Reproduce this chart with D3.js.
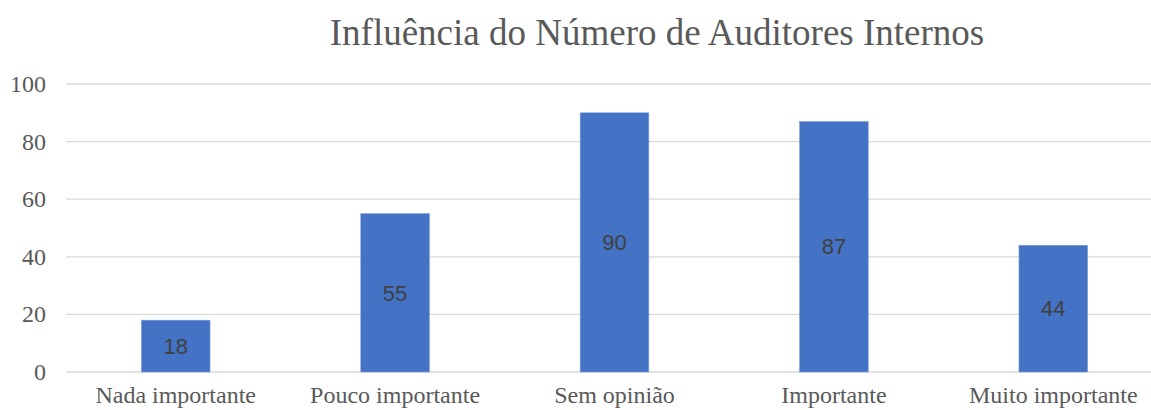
<!DOCTYPE html>
<html>
<head>
<meta charset="utf-8">
<script src="https://cdn.jsdelivr.net/npm/d3@7"></script>
<style>
  body { margin: 0; background: #fff; }
  svg { display: block; }
</style>
</head>
<body>
<div id="chart"></div>
<script>
  var categories = ['Nada importante', 'Pouco importante', 'Sem opinião', 'Importante', 'Muito importante'];
  var values = [18, 55, 90, 87, 44];
  var yTicks = [0, 20, 40, 60, 80, 100];
  var title = 'Influência do Número de Auditores Internos';

  var width = 1151;
  var height = 410;
  var plotLeft = 66;
  var plotRight = 1163;
  var plotTop = 84;
  var plotBottom = 372;

  var svg = d3.select('#chart')
    .append('svg')
    .attr('width', width)
    .attr('height', height);

  var x = d3.scaleBand()
    .domain(categories)
    .range([plotLeft, plotRight])
    .paddingInner(0.687)
    .paddingOuter(0.3435);

  var y = d3.scaleLinear()
    .domain([0, 100])
    .range([plotBottom, plotTop]);

  // gridlines
  svg.append('g')
    .selectAll('line')
    .data(yTicks)
    .enter()
    .append('line')
    .attr('x1', plotLeft)
    .attr('x2', width)
    .attr('y1', function(d) { return y(d); })
    .attr('y2', function(d) { return y(d); })
    .attr('stroke', '#d9d9d9')
    .attr('stroke-width', 1.3);

  // y tick labels
  svg.append('g')
    .selectAll('text')
    .data(yTicks)
    .enter()
    .append('text')
    .attr('x', 46)
    .attr('y', function(d) { return y(d); })
    .attr('dy', '0.33em')
    .attr('text-anchor', 'end')
    .style('font-family', '"Liberation Serif", serif')
    .style('font-size', '24px')
    .style('fill', '#595959')
    .text(function(d) { return d; });

  // bars
  svg.append('g')
    .selectAll('rect')
    .data(values)
    .enter()
    .append('rect')
    .attr('x', function(d, i) { return x(categories[i]); })
    .attr('y', function(d) { return y(d); })
    .attr('width', x.bandwidth())
    .attr('height', function(d) { return y(0) - y(d); })
    .attr('fill', '#4472c4')
    .attr('stroke', '#7f9fd9')
    .attr('stroke-width', 0.6);

  // value labels
  svg.append('g')
    .selectAll('text')
    .data(values)
    .enter()
    .append('text')
    .attr('x', function(d, i) { return x(categories[i]) + x.bandwidth() / 2; })
    .attr('y', function(d) { return (y(d) + y(0)) / 2; })
    .attr('dy', '0.35em')
    .attr('text-anchor', 'middle')
    .style('font-family', '"Liberation Sans", "DejaVu Sans", sans-serif')
    .style('font-size', '22px')
    .style('fill', '#404040')
    .text(function(d) { return d; });

  // x labels
  svg.append('g')
    .selectAll('text')
    .data(categories)
    .enter()
    .append('text')
    .attr('x', function(d) { return x(d) + x.bandwidth() / 2; })
    .attr('y', 403)
    .attr('text-anchor', 'middle')
    .style('font-family', '"Liberation Serif", serif')
    .style('font-size', '24px')
    .style('fill', '#595959')
    .text(function(d) { return d; });

  svg.append('text')
    .attr('x', 657)
    .attr('y', 45)
    .attr('text-anchor', 'middle')
    .style('font-family', '"Liberation Serif", serif')
    .style('font-size', '37px')
    .style('fill', '#595959')
    .text(title);
</script>
</body>
</html>
